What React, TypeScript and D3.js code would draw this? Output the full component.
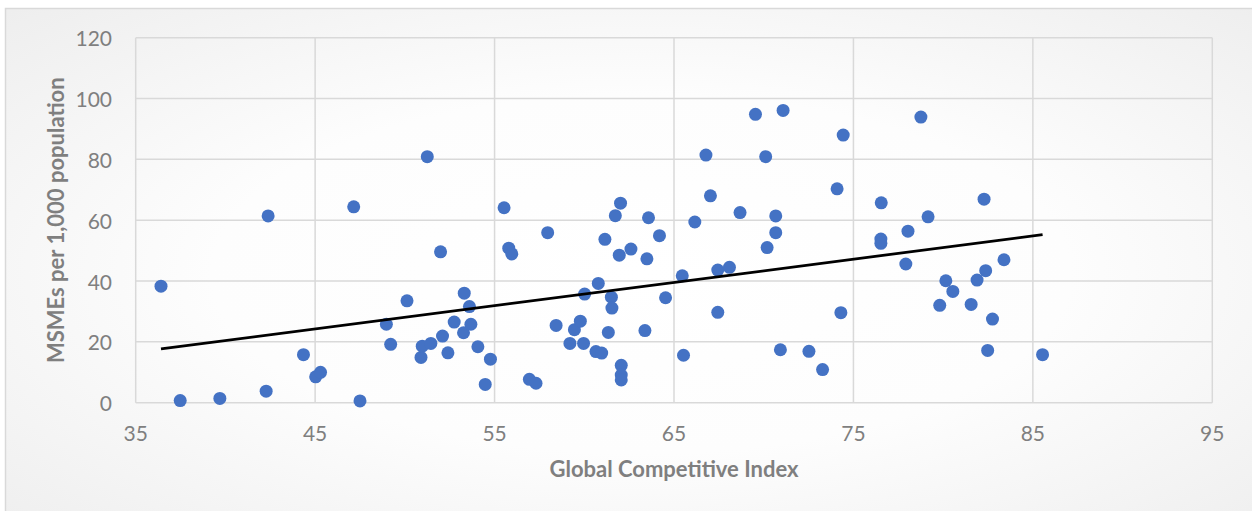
import React from "react";
import * as d3 from "d3";

const gciValues: number[] = [
  36.41, 37.48, 39.69, 42.27, 42.38, 44.35, 45.03, 45.3, 47.15, 47.5,
  48.97, 49.21, 50.12, 50.9, 50.97, 51.25, 51.45, 51.99, 52.1, 52.4,
  52.75, 53.27, 53.31, 53.6, 53.68, 54.07, 54.48, 54.77, 55.53, 55.79,
  55.96, 56.94, 57.31, 57.96, 58.43, 59.2, 59.45, 59.78, 59.96, 60.02,
  60.65, 60.78, 60.97, 61.15, 61.34, 61.51, 61.54, 61.73, 61.95, 62.02,
  62.06, 62.06, 62.06, 62.6, 63.38, 63.49, 63.58, 64.19, 64.53, 65.46,
  65.53, 66.16, 66.78, 67.03, 67.44, 67.44, 68.09, 68.68, 69.54, 70.11,
  70.19, 70.67, 70.67, 70.93, 71.08, 72.52, 73.28, 74.09, 74.3, 74.43,
  76.53, 76.53, 76.55, 77.92, 78.04, 78.76, 79.16, 79.81, 80.15, 80.54,
  81.56, 81.89, 82.28, 82.37, 82.48, 82.75, 83.39, 85.54,
];

const msmeValues: number[] = [
  38.3, 0.7, 1.4, 3.8, 61.4, 15.8, 8.5, 10.0, 64.4, 0.6,
  25.8, 19.2, 33.5, 14.9, 18.6, 80.9, 19.5, 49.6, 21.9, 16.4,
  26.5, 23.0, 36.0, 31.6, 25.8, 18.4, 6.0, 14.3, 64.1, 50.8,
  48.9, 7.7, 6.4, 55.9, 25.4, 19.5, 24.0, 26.8, 19.5, 35.7,
  16.8, 39.2, 16.3, 53.7, 23.1, 34.7, 31.1, 61.5, 48.5, 65.6,
  12.3, 9.1, 7.5, 50.5, 23.7, 47.3, 60.8, 54.9, 34.5, 41.7,
  15.6, 59.4, 81.4, 68.0, 43.6, 29.7, 44.5, 62.5, 94.8, 80.9,
  51.0, 61.4, 55.9, 17.4, 96.1, 16.9, 10.9, 70.3, 29.6, 88.0,
  53.8, 52.4, 65.7, 45.6, 56.4, 93.9, 61.1, 32.0, 40.1, 36.6,
  32.3, 40.3, 66.9, 43.4, 17.2, 27.5, 47.0, 15.8,
];

const xTicks: number[] = [35, 45, 55, 65, 75, 85, 95];
const yTicks: number[] = [0, 20, 40, 60, 80, 100, 120];

const xTitle = "Global Competitive Index";
const yTitle = "MSMEs per 1,000 population";

const W = 1252;
const H = 511;
const plot = { left: 135.7, right: 1212.3, top: 37.7, bottom: 402.7 };

export default function App() {
  const x = d3.scaleLinear().domain([35, 95]).range([plot.left, plot.right]);
  const y = d3.scaleLinear().domain([0, 120]).range([plot.bottom, plot.top]);

  const pts = gciValues.map((g, i) => ({ g, m: msmeValues[i] }));
  const mx = d3.mean(gciValues) as number;
  const my = d3.mean(msmeValues) as number;
  const sxy = d3.sum(pts, (p) => (p.g - mx) * (p.m - my));
  const sxx = d3.sum(pts, (p) => (p.g - mx) * (p.g - mx));
  const slope = sxy / sxx;
  const intercept = my - slope * mx;
  const [gMin, gMax] = d3.extent(gciValues) as [number, number];
  const trend = d3
    .line<number>()
    .x((g) => x(g))
    .y((g) => y(intercept + slope * g));

  const font = "Lato, 'Open Sans', sans-serif";

  return (
    <div style={{ position: "absolute", left: 0, top: 0 }}>
      <svg width={W} height={H} style={{ display: "block" }}>
        <defs>
          <radialGradient id="bg" cx="50%" cy="50%" r="75%">
            <stop offset="0%" stopColor="#ffffff" />
            <stop offset="45%" stopColor="#fdfdfd" />
            <stop offset="100%" stopColor="#ececec" />
          </radialGradient>
        </defs>
        <rect x={0} y={0} width={W} height={H} fill="#ffffff" />
        <rect
          x={5.5}
          y={8.5}
          width={W + 20}
          height={H + 20}
          fill="url(#bg)"
          stroke="#d9d9d9"
          strokeWidth={1.5}
        />
        <g stroke="#d9d9d9" strokeWidth={1.5} fill="none">
          {xTicks.map((t) => (
            <line key={"gx" + t} x1={x(t)} x2={x(t)} y1={plot.top} y2={plot.bottom} />
          ))}
          {yTicks.map((t) => (
            <line key={"gy" + t} x1={plot.left} x2={plot.right} y1={y(t)} y2={y(t)} />
          ))}
        </g>
        <g fill="#7f7f7f" fontFamily={font} fontSize={21}>
          {xTicks.map((t) => (
            <text key={"tx" + t} x={x(t)} y={441} textAnchor="middle">
              {t}
            </text>
          ))}
          {yTicks.map((t) => (
            <text key={"ty" + t} x={112} y={y(t)} textAnchor="end" dominantBaseline="central">
              {t}
            </text>
          ))}
        </g>
        <g fill="#4472c4">
          {pts.map((p, i) => (
            <circle key={i} cx={x(p.g)} cy={y(p.m)} r={6.5} />
          ))}
        </g>
        <path d={trend([gMin, gMax]) || ""} stroke="#000" strokeWidth={2.75} fill="none" />
        <text
          x={(plot.left + plot.right) / 2}
          y={477}
          textAnchor="middle"
          fill="#7f7f7f"
          fontFamily={font}
          fontWeight="bold"
          fontSize={22}
        >
          {xTitle}
        </text>
        <text
          transform={`translate(64, ${(plot.top + plot.bottom) / 2}) rotate(-90)`}
          textAnchor="middle"
          fill="#7f7f7f"
          fontFamily={font}
          fontWeight="bold"
          fontSize={22}
        >
          {yTitle}
        </text>
      </svg>
    </div>
  );
}
